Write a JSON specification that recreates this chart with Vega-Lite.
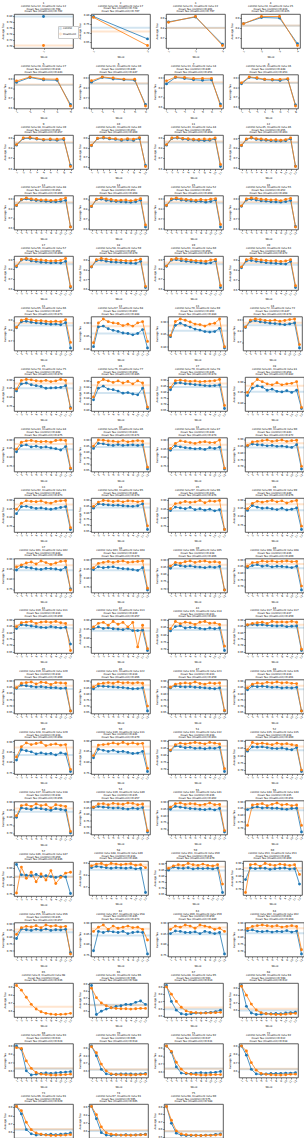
{
"$schema":"https://vega.github.io/schema/vega-lite/v6.json",
"padding":{"left":1,"top":1,"right":0,"bottom":0},
"datasets":{"titles":[
{"p":1,"ttl":"1|control runs:12, treatment runs:12|mean Tau (control)=0.798|mean Tau (treatment)=0.702"},
{"p":2,"ttl":"2|control runs:18, treatment runs:17|mean Tau (control)=0.728|mean Tau (treatment)=0.707"},
{"p":3,"ttl":"3|control runs:21, treatment runs:22|mean Tau (control)=0.801|mean Tau (treatment)=0.797"},
{"p":4,"ttl":"4|control runs:24, treatment runs:25|mean Tau (control)=0.824|mean Tau (treatment)=0.825"},
{"p":5,"ttl":"5|control runs:28, treatment runs:27|mean Tau (control)=0.834|mean Tau (treatment)=0.843"},
{"p":6,"ttl":"6|control runs:31, treatment runs:30|mean Tau (control)=0.840|mean Tau (treatment)=0.847"},
{"p":7,"ttl":"7|control runs:33, treatment runs:34|mean Tau (control)=0.840|mean Tau (treatment)=0.851"},
{"p":8,"ttl":"8|control runs:36, treatment runs:36|mean Tau (control)=0.848|mean Tau (treatment)=0.853"},
{"p":9,"ttl":"9|control runs:38, treatment runs:39|mean Tau (control)=0.852|mean Tau (treatment)=0.857"},
{"p":10,"ttl":"10|control runs:41, treatment runs:40|mean Tau (control)=0.853|mean Tau (treatment)=0.860"},
{"p":11,"ttl":"11|control runs:43, treatment runs:44|mean Tau (control)=0.855|mean Tau (treatment)=0.864"},
{"p":12,"ttl":"12|control runs:45, treatment runs:46|mean Tau (control)=0.855|mean Tau (treatment)=0.863"},
{"p":13,"ttl":"13|control runs:47, treatment runs:48|mean Tau (control)=0.854|mean Tau (treatment)=0.866"},
{"p":14,"ttl":"14|control runs:50, treatment runs:49|mean Tau (control)=0.853|mean Tau (treatment)=0.868"},
{"p":15,"ttl":"15|control runs:52, treatment runs:52|mean Tau (control)=0.852|mean Tau (treatment)=0.868"},
{"p":16,"ttl":"16|control runs:54, treatment runs:55|mean Tau (control)=0.852|mean Tau (treatment)=0.868"},
{"p":17,"ttl":"17|control runs:56, treatment runs:57|mean Tau (control)=0.850|mean Tau (treatment)=0.869"},
{"p":18,"ttl":"18|control runs:58, treatment runs:59|mean Tau (control)=0.850|mean Tau (treatment)=0.870"},
{"p":19,"ttl":"19|control runs:61, treatment runs:60|mean Tau (control)=0.850|mean Tau (treatment)=0.870"},
{"p":20,"ttl":"20|control runs:63, treatment runs:63|mean Tau (control)=0.848|mean Tau (treatment)=0.872"},
{"p":21,"ttl":"21|control runs:65, treatment runs:66|mean Tau (control)=0.847|mean Tau (treatment)=0.873"},
{"p":22,"ttl":"22|control runs:67, treatment runs:68|mean Tau (control)=0.862|mean Tau (treatment)=0.888"},
{"p":23,"ttl":"23|control runs:70, treatment runs:69|mean Tau (control)=0.862|mean Tau (treatment)=0.884"},
{"p":24,"ttl":"24|control runs:72, treatment runs:72|mean Tau (control)=0.847|mean Tau (treatment)=0.874"},
{"p":25,"ttl":"25|control runs:74, treatment runs:75|mean Tau (control)=0.851|mean Tau (treatment)=0.879"},
{"p":26,"ttl":"26|control runs:76, treatment runs:77|mean Tau (control)=0.858|mean Tau (treatment)=0.885"},
{"p":27,"ttl":"27|control runs:79, treatment runs:78|mean Tau (control)=0.845|mean Tau (treatment)=0.874"},
{"p":28,"ttl":"28|control runs:81, treatment runs:81|mean Tau (control)=0.854|mean Tau (treatment)=0.882"},
{"p":29,"ttl":"29|control runs:83, treatment runs:84|mean Tau (control)=0.848|mean Tau (treatment)=0.875"},
{"p":30,"ttl":"30|control runs:85, treatment runs:86|mean Tau (control)=0.843|mean Tau (treatment)=0.871"},
{"p":31,"ttl":"31|control runs:88, treatment runs:87|mean Tau (control)=0.844|mean Tau (treatment)=0.874"},
{"p":32,"ttl":"32|control runs:90, treatment runs:90|mean Tau (control)=0.843|mean Tau (treatment)=0.872"},
{"p":33,"ttl":"33|control runs:92, treatment runs:93|mean Tau (control)=0.842|mean Tau (treatment)=0.873"},
{"p":34,"ttl":"34|control runs:94, treatment runs:95|mean Tau (control)=0.846|mean Tau (treatment)=0.874"},
{"p":35,"ttl":"35|control runs:97, treatment runs:96|mean Tau (control)=0.843|mean Tau (treatment)=0.876"},
{"p":36,"ttl":"36|control runs:99, treatment runs:99|mean Tau (control)=0.840|mean Tau (treatment)=0.876"},
{"p":37,"ttl":"37|control runs:101, treatment runs:102|mean Tau (control)=0.844|mean Tau (treatment)=0.869"},
{"p":38,"ttl":"38|control runs:103, treatment runs:104|mean Tau (control)=0.842|mean Tau (treatment)=0.874"},
{"p":39,"ttl":"39|control runs:106, treatment runs:105|mean Tau (control)=0.838|mean Tau (treatment)=0.866"},
{"p":40,"ttl":"40|control runs:108, treatment runs:108|mean Tau (control)=0.836|mean Tau (treatment)=0.869"},
{"p":41,"ttl":"41|control runs:110, treatment runs:111|mean Tau (control)=0.834|mean Tau (treatment)=0.859"},
{"p":42,"ttl":"42|control runs:112, treatment runs:113|mean Tau (control)=0.839|mean Tau (treatment)=0.857"},
{"p":43,"ttl":"43|control runs:115, treatment runs:114|mean Tau (control)=0.833|mean Tau (treatment)=0.862"},
{"p":44,"ttl":"44|control runs:117, treatment runs:117|mean Tau (control)=0.837|mean Tau (treatment)=0.859"},
{"p":45,"ttl":"45|control runs:119, treatment runs:120|mean Tau (control)=0.834|mean Tau (treatment)=0.860"},
{"p":46,"ttl":"46|control runs:121, treatment runs:122|mean Tau (control)=0.834|mean Tau (treatment)=0.866"},
{"p":47,"ttl":"47|control runs:124, treatment runs:123|mean Tau (control)=0.833|mean Tau (treatment)=0.859"},
{"p":48,"ttl":"48|control runs:126, treatment runs:126|mean Tau (control)=0.834|mean Tau (treatment)=0.861"},
{"p":49,"ttl":"49|control runs:128, treatment runs:129|mean Tau (control)=0.838|mean Tau (treatment)=0.868"},
{"p":50,"ttl":"50|control runs:130, treatment runs:131|mean Tau (control)=0.841|mean Tau (treatment)=0.870"},
{"p":51,"ttl":"51|control runs:133, treatment runs:132|mean Tau (control)=0.838|mean Tau (treatment)=0.863"},
{"p":52,"ttl":"52|control runs:135, treatment runs:135|mean Tau (control)=0.838|mean Tau (treatment)=0.860"},
{"p":53,"ttl":"53|control runs:137, treatment runs:138|mean Tau (control)=0.838|mean Tau (treatment)=0.856"},
{"p":54,"ttl":"54|control runs:139, treatment runs:140|mean Tau (control)=0.835|mean Tau (treatment)=0.857"},
{"p":55,"ttl":"55|control runs:142, treatment runs:141|mean Tau (control)=0.836|mean Tau (treatment)=0.862"},
{"p":56,"ttl":"56|control runs:144, treatment runs:144|mean Tau (control)=0.835|mean Tau (treatment)=0.851"},
{"p":57,"ttl":"57|control runs:146, treatment runs:147|mean Tau (control)=0.850|mean Tau (treatment)=0.846"},
{"p":58,"ttl":"58|control runs:148, treatment runs:149|mean Tau (control)=0.838|mean Tau (treatment)=0.886"},
{"p":59,"ttl":"59|control runs:151, treatment runs:150|mean Tau (control)=0.841|mean Tau (treatment)=0.879"},
{"p":60,"ttl":"60|control runs:153, treatment runs:153|mean Tau (control)=0.839|mean Tau (treatment)=0.860"},
{"p":61,"ttl":"61|control runs:155, treatment runs:156|mean Tau (control)=0.835|mean Tau (treatment)=0.857"},
{"p":62,"ttl":"62|control runs:157, treatment runs:158|mean Tau (control)=0.845|mean Tau (treatment)=0.874"},
{"p":63,"ttl":"63|control runs:160, treatment runs:159|mean Tau (control)=0.850|mean Tau (treatment)=0.880"},
{"p":64,"ttl":"64|control runs:162, treatment runs:162|mean Tau (control)=0.828|mean Tau (treatment)=0.864"},
{"p":65,"ttl":"65|control runs:0, treatment runs:98|mean Tau (control)=nan|mean Tau (treatment)=0.636"},
{"p":66,"ttl":"66|control runs:41, treatment runs:96|mean Tau (control)=0.596|mean Tau (treatment)=0.588"},
{"p":67,"ttl":"67|control runs:88, treatment runs:95|mean Tau (control)=0.593|mean Tau (treatment)=0.614"},
{"p":68,"ttl":"68|control runs:90, treatment runs:94|mean Tau (control)=0.598|mean Tau (treatment)=0.612"},
{"p":69,"ttl":"69|control runs:92, treatment runs:93|mean Tau (control)=0.633|mean Tau (treatment)=0.624"},
{"p":70,"ttl":"70|control runs:93, treatment runs:93|mean Tau (control)=0.606|mean Tau (treatment)=0.614"},
{"p":71,"ttl":"71|control runs:94, treatment runs:92|mean Tau (control)=0.637|mean Tau (treatment)=0.631"},
{"p":72,"ttl":"72|control runs:95, treatment runs:92|mean Tau (control)=0.612|mean Tau (treatment)=0.618"},
{"p":73,"ttl":"73|control runs:96, treatment runs:91|mean Tau (control)=0.624|mean Tau (treatment)=0.629"},
{"p":74,"ttl":"74|control runs:97, treatment runs:91|mean Tau (control)=0.595|mean Tau (treatment)=0.605"},
{"p":75,"ttl":"75|control runs:98, treatment runs:90|mean Tau (control)=0.575|mean Tau (treatment)=0.588"}
]},
"data":{"values":[
{"p":1,"w":1,"control":0.798,"treatment":0.702},
{"p":2,"w":1,"control":0.79,"treatment":0.785},{"p":2,"w":2,"control":0.665,"treatment":0.628},
{"p":3,"w":1,"control":0.858,"treatment":0.853},{"p":3,"w":2,"control":0.905,"treatment":0.91},{"p":3,"w":3,"control":0.64,"treatment":0.628},
{"p":4,"w":1,"control":0.845,"treatment":0.843},{"p":4,"w":2,"control":0.905,"treatment":0.915},{"p":4,"w":3,"control":0.9,"treatment":0.915},{"p":4,"w":4,"control":0.645,"treatment":0.627},
{"p":5,"w":1,"control":0.86,"treatment":0.875},{"p":5,"w":2,"control":0.91,"treatment":0.915},{"p":5,"w":3,"control":0.885,"treatment":0.895},{"p":5,"w":4,"control":0.882,"treatment":0.893},{"p":5,"w":5,"control":0.635,"treatment":0.62},
{"p":6,"w":1,"control":0.857,"treatment":0.872},{"p":6,"w":2,"control":0.905,"treatment":0.91},{"p":6,"w":3,"control":0.89,"treatment":0.9},{"p":6,"w":4,"control":0.882,"treatment":0.888},{"p":6,"w":5,"control":0.877,"treatment":0.887},{"p":6,"w":6,"control":0.63,"treatment":0.615},
{"p":7,"w":1,"control":0.835,"treatment":0.866},{"p":7,"w":2,"control":0.9,"treatment":0.905},{"p":7,"w":3,"control":0.89,"treatment":0.9},{"p":7,"w":4,"control":0.877,"treatment":0.89},{"p":7,"w":5,"control":0.872,"treatment":0.891},{"p":7,"w":6,"control":0.876,"treatment":0.892},{"p":7,"w":7,"control":0.632,"treatment":0.613},
{"p":8,"w":1,"control":0.84,"treatment":0.85},{"p":8,"w":2,"control":0.905,"treatment":0.91},{"p":8,"w":3,"control":0.895,"treatment":0.902},{"p":8,"w":4,"control":0.882,"treatment":0.887},{"p":8,"w":5,"control":0.878,"treatment":0.885},{"p":8,"w":6,"control":0.874,"treatment":0.886},{"p":8,"w":7,"control":0.886,"treatment":0.893},{"p":8,"w":8,"control":0.622,"treatment":0.61},
{"p":9,"w":1,"control":0.83,"treatment":0.835},{"p":9,"w":2,"control":0.895,"treatment":0.9},{"p":9,"w":3,"control":0.897,"treatment":0.905},{"p":9,"w":4,"control":0.89,"treatment":0.895},{"p":9,"w":5,"control":0.88,"treatment":0.887},{"p":9,"w":6,"control":0.882,"treatment":0.89},{"p":9,"w":7,"control":0.877,"treatment":0.888},{"p":9,"w":8,"control":0.885,"treatment":0.895},{"p":9,"w":9,"control":0.63,"treatment":0.62},
{"p":10,"w":1,"control":0.82,"treatment":0.825},{"p":10,"w":2,"control":0.893,"treatment":0.897},{"p":10,"w":3,"control":0.9,"treatment":0.905},{"p":10,"w":4,"control":0.89,"treatment":0.898},{"p":10,"w":5,"control":0.885,"treatment":0.893},{"p":10,"w":6,"control":0.875,"treatment":0.885},{"p":10,"w":7,"control":0.882,"treatment":0.893},{"p":10,"w":8,"control":0.875,"treatment":0.888},{"p":10,"w":9,"control":0.895,"treatment":0.903},{"p":10,"w":10,"control":0.615,"treatment":0.605},
{"p":11,"w":1,"control":0.83,"treatment":0.835},{"p":11,"w":2,"control":0.895,"treatment":0.9},{"p":11,"w":3,"control":0.9,"treatment":0.905},{"p":11,"w":4,"control":0.89,"treatment":0.897},{"p":11,"w":5,"control":0.885,"treatment":0.893},{"p":11,"w":6,"control":0.88,"treatment":0.888},{"p":11,"w":7,"control":0.877,"treatment":0.887},{"p":11,"w":8,"control":0.875,"treatment":0.89},{"p":11,"w":9,"control":0.878,"treatment":0.888},{"p":11,"w":10,"control":0.89,"treatment":0.9},{"p":11,"w":11,"control":0.62,"treatment":0.64},
{"p":12,"w":1,"control":0.825,"treatment":0.83},{"p":12,"w":2,"control":0.89,"treatment":0.895},{"p":12,"w":3,"control":0.905,"treatment":0.91},{"p":12,"w":4,"control":0.89,"treatment":0.898},{"p":12,"w":5,"control":0.884,"treatment":0.895},{"p":12,"w":6,"control":0.882,"treatment":0.89},{"p":12,"w":7,"control":0.876,"treatment":0.885},{"p":12,"w":8,"control":0.874,"treatment":0.887},{"p":12,"w":9,"control":0.873,"treatment":0.882},{"p":12,"w":10,"control":0.877,"treatment":0.888},{"p":12,"w":11,"control":0.895,"treatment":0.905},{"p":12,"w":12,"control":0.615,"treatment":0.612},
{"p":13,"w":1,"control":0.83,"treatment":0.835},{"p":13,"w":2,"control":0.89,"treatment":0.895},{"p":13,"w":3,"control":0.9,"treatment":0.91},{"p":13,"w":4,"control":0.89,"treatment":0.9},{"p":13,"w":5,"control":0.884,"treatment":0.895},{"p":13,"w":6,"control":0.88,"treatment":0.89},{"p":13,"w":7,"control":0.875,"treatment":0.89},{"p":13,"w":8,"control":0.872,"treatment":0.885},{"p":13,"w":9,"control":0.87,"treatment":0.887},{"p":13,"w":10,"control":0.875,"treatment":0.895},{"p":13,"w":11,"control":0.885,"treatment":0.91},{"p":13,"w":12,"control":0.61,"treatment":0.608},
{"p":14,"w":1,"control":0.825,"treatment":0.83},{"p":14,"w":2,"control":0.895,"treatment":0.9},{"p":14,"w":3,"control":0.9,"treatment":0.912},{"p":14,"w":4,"control":0.888,"treatment":0.902},{"p":14,"w":5,"control":0.882,"treatment":0.897},{"p":14,"w":6,"control":0.876,"treatment":0.888},{"p":14,"w":7,"control":0.873,"treatment":0.89},{"p":14,"w":8,"control":0.872,"treatment":0.892},{"p":14,"w":9,"control":0.868,"treatment":0.884},{"p":14,"w":10,"control":0.874,"treatment":0.893},{"p":14,"w":11,"control":0.89,"treatment":0.905},{"p":14,"w":12,"control":0.62,"treatment":0.64},
{"p":15,"w":1,"control":0.83,"treatment":0.835},{"p":15,"w":2,"control":0.89,"treatment":0.9},{"p":15,"w":3,"control":0.898,"treatment":0.908},{"p":15,"w":4,"control":0.887,"treatment":0.9},{"p":15,"w":5,"control":0.883,"treatment":0.894},{"p":15,"w":6,"control":0.877,"treatment":0.892},{"p":15,"w":7,"control":0.872,"treatment":0.885},{"p":15,"w":8,"control":0.875,"treatment":0.893},{"p":15,"w":9,"control":0.866,"treatment":0.887},{"p":15,"w":10,"control":0.873,"treatment":0.896},{"p":15,"w":11,"control":0.887,"treatment":0.902},{"p":15,"w":12,"control":0.615,"treatment":0.64},
{"p":16,"w":1,"control":0.825,"treatment":0.83},{"p":16,"w":2,"control":0.89,"treatment":0.9},{"p":16,"w":3,"control":0.897,"treatment":0.91},{"p":16,"w":4,"control":0.89,"treatment":0.905},{"p":16,"w":5,"control":0.88,"treatment":0.897},{"p":16,"w":6,"control":0.878,"treatment":0.895},{"p":16,"w":7,"control":0.872,"treatment":0.89},{"p":16,"w":8,"control":0.87,"treatment":0.893},{"p":16,"w":9,"control":0.868,"treatment":0.882},{"p":16,"w":10,"control":0.873,"treatment":0.896},{"p":16,"w":11,"control":0.885,"treatment":0.905},{"p":16,"w":12,"control":0.62,"treatment":0.615},
{"p":17,"w":1,"control":0.825,"treatment":0.835},{"p":17,"w":2,"control":0.895,"treatment":0.9},{"p":17,"w":3,"control":0.9,"treatment":0.91},{"p":17,"w":4,"control":0.885,"treatment":0.902},{"p":17,"w":5,"control":0.88,"treatment":0.897},{"p":17,"w":6,"control":0.872,"treatment":0.895},{"p":17,"w":7,"control":0.87,"treatment":0.89},{"p":17,"w":8,"control":0.865,"treatment":0.885},{"p":17,"w":9,"control":0.868,"treatment":0.887},{"p":17,"w":10,"control":0.863,"treatment":0.89},{"p":17,"w":11,"control":0.88,"treatment":0.91},{"p":17,"w":12,"control":0.615,"treatment":0.625},
{"p":18,"w":1,"control":0.825,"treatment":0.83},{"p":18,"w":2,"control":0.89,"treatment":0.9},{"p":18,"w":3,"control":0.895,"treatment":0.912},{"p":18,"w":4,"control":0.885,"treatment":0.905},{"p":18,"w":5,"control":0.877,"treatment":0.9},{"p":18,"w":6,"control":0.875,"treatment":0.898},{"p":18,"w":7,"control":0.872,"treatment":0.893},{"p":18,"w":8,"control":0.868,"treatment":0.89},{"p":18,"w":9,"control":0.865,"treatment":0.888},{"p":18,"w":10,"control":0.862,"treatment":0.895},{"p":18,"w":11,"control":0.883,"treatment":0.905},{"p":18,"w":12,"control":0.618,"treatment":0.63},
{"p":19,"w":1,"control":0.83,"treatment":0.835},{"p":19,"w":2,"control":0.893,"treatment":0.9},{"p":19,"w":3,"control":0.898,"treatment":0.91},{"p":19,"w":4,"control":0.888,"treatment":0.905},{"p":19,"w":5,"control":0.882,"treatment":0.9},{"p":19,"w":6,"control":0.876,"treatment":0.893},{"p":19,"w":7,"control":0.872,"treatment":0.888},{"p":19,"w":8,"control":0.865,"treatment":0.886},{"p":19,"w":9,"control":0.86,"treatment":0.882},{"p":19,"w":10,"control":0.866,"treatment":0.895},{"p":19,"w":11,"control":0.885,"treatment":0.9},{"p":19,"w":12,"control":0.615,"treatment":0.635},
{"p":20,"w":1,"control":0.82,"treatment":0.83},{"p":20,"w":2,"control":0.89,"treatment":0.902},{"p":20,"w":3,"control":0.895,"treatment":0.915},{"p":20,"w":4,"control":0.886,"treatment":0.905},{"p":20,"w":5,"control":0.88,"treatment":0.9},{"p":20,"w":6,"control":0.873,"treatment":0.895},{"p":20,"w":7,"control":0.868,"treatment":0.89},{"p":20,"w":8,"control":0.865,"treatment":0.892},{"p":20,"w":9,"control":0.862,"treatment":0.885},{"p":20,"w":10,"control":0.858,"treatment":0.89},{"p":20,"w":11,"control":0.885,"treatment":0.903},{"p":20,"w":12,"control":0.62,"treatment":0.638},
{"p":21,"w":1,"control":0.825,"treatment":0.83},{"p":21,"w":2,"control":0.885,"treatment":0.9},{"p":21,"w":3,"control":0.89,"treatment":0.912},{"p":21,"w":4,"control":0.88,"treatment":0.902},{"p":21,"w":5,"control":0.873,"treatment":0.895},{"p":21,"w":6,"control":0.87,"treatment":0.895},{"p":21,"w":7,"control":0.865,"treatment":0.89},{"p":21,"w":8,"control":0.86,"treatment":0.885},{"p":21,"w":9,"control":0.862,"treatment":0.89},{"p":21,"w":10,"control":0.855,"treatment":0.885},{"p":21,"w":11,"control":0.875,"treatment":0.905},{"p":21,"w":12,"control":0.625,"treatment":0.68},
{"p":22,"w":1,"control":0.81,"treatment":0.825},{"p":22,"w":2,"control":0.885,"treatment":0.9},{"p":22,"w":3,"control":0.888,"treatment":0.915},{"p":22,"w":4,"control":0.878,"treatment":0.905},{"p":22,"w":5,"control":0.872,"treatment":0.9},{"p":22,"w":6,"control":0.868,"treatment":0.898},{"p":22,"w":7,"control":0.862,"treatment":0.89},{"p":22,"w":8,"control":0.86,"treatment":0.895},{"p":22,"w":9,"control":0.855,"treatment":0.888},{"p":22,"w":10,"control":0.86,"treatment":0.9},{"p":22,"w":11,"control":0.875,"treatment":0.905},{"p":22,"w":12,"control":0.805,"treatment":0.83},
{"p":23,"w":1,"control":0.84,"treatment":0.845},{"p":23,"w":2,"control":0.885,"treatment":0.9},{"p":23,"w":3,"control":0.893,"treatment":0.91},{"p":23,"w":4,"control":0.885,"treatment":0.905},{"p":23,"w":5,"control":0.878,"treatment":0.898},{"p":23,"w":6,"control":0.87,"treatment":0.89},{"p":23,"w":7,"control":0.866,"treatment":0.888},{"p":23,"w":8,"control":0.86,"treatment":0.882},{"p":23,"w":9,"control":0.858,"treatment":0.89},{"p":23,"w":10,"control":0.86,"treatment":0.893},{"p":23,"w":11,"control":0.873,"treatment":0.91},{"p":23,"w":12,"control":0.795,"treatment":0.8},
{"p":24,"w":1,"control":0.83,"treatment":0.835},{"p":24,"w":2,"control":0.885,"treatment":0.895},{"p":24,"w":3,"control":0.89,"treatment":0.905},{"p":24,"w":4,"control":0.88,"treatment":0.9},{"p":24,"w":5,"control":0.875,"treatment":0.893},{"p":24,"w":6,"control":0.868,"treatment":0.89},{"p":24,"w":7,"control":0.865,"treatment":0.895},{"p":24,"w":8,"control":0.86,"treatment":0.885},{"p":24,"w":9,"control":0.855,"treatment":0.892},{"p":24,"w":10,"control":0.862,"treatment":0.9},{"p":24,"w":11,"control":0.87,"treatment":0.905},{"p":24,"w":12,"control":0.65,"treatment":0.68},
{"p":25,"w":1,"control":0.835,"treatment":0.845},{"p":25,"w":2,"control":0.875,"treatment":0.895},{"p":25,"w":3,"control":0.88,"treatment":0.9},{"p":25,"w":4,"control":0.87,"treatment":0.898},{"p":25,"w":5,"control":0.865,"treatment":0.893},{"p":25,"w":6,"control":0.86,"treatment":0.89},{"p":25,"w":7,"control":0.85,"treatment":0.895},{"p":25,"w":8,"control":0.852,"treatment":0.888},{"p":25,"w":9,"control":0.853,"treatment":0.892},{"p":25,"w":10,"control":0.855,"treatment":0.9},{"p":25,"w":11,"control":0.865,"treatment":0.895},{"p":25,"w":12,"control":0.74,"treatment":0.735},
{"p":26,"w":1,"control":0.835,"treatment":0.845},{"p":26,"w":2,"control":0.875,"treatment":0.895},{"p":26,"w":3,"control":0.882,"treatment":0.905},{"p":26,"w":4,"control":0.872,"treatment":0.9},{"p":26,"w":5,"control":0.87,"treatment":0.895},{"p":26,"w":6,"control":0.865,"treatment":0.9},{"p":26,"w":7,"control":0.858,"treatment":0.893},{"p":26,"w":8,"control":0.86,"treatment":0.898},{"p":26,"w":9,"control":0.855,"treatment":0.89},{"p":26,"w":10,"control":0.852,"treatment":0.9},{"p":26,"w":11,"control":0.875,"treatment":0.893},{"p":26,"w":12,"control":0.805,"treatment":0.81},
{"p":27,"w":1,"control":0.82,"treatment":0.84},{"p":27,"w":2,"control":0.875,"treatment":0.895},{"p":27,"w":3,"control":0.878,"treatment":0.9},{"p":27,"w":4,"control":0.87,"treatment":0.895},{"p":27,"w":5,"control":0.868,"treatment":0.89},{"p":27,"w":6,"control":0.862,"treatment":0.893},{"p":27,"w":7,"control":0.86,"treatment":0.887},{"p":27,"w":8,"control":0.855,"treatment":0.89},{"p":27,"w":9,"control":0.852,"treatment":0.892},{"p":27,"w":10,"control":0.855,"treatment":0.895},{"p":27,"w":11,"control":0.86,"treatment":0.905},{"p":27,"w":12,"control":0.665,"treatment":0.69},
{"p":28,"w":1,"control":0.835,"treatment":0.85},{"p":28,"w":2,"control":0.87,"treatment":0.89},{"p":28,"w":3,"control":0.88,"treatment":0.91},{"p":28,"w":4,"control":0.875,"treatment":0.9},{"p":28,"w":5,"control":0.86,"treatment":0.89},{"p":28,"w":6,"control":0.865,"treatment":0.885},{"p":28,"w":7,"control":0.855,"treatment":0.895},{"p":28,"w":8,"control":0.852,"treatment":0.885},{"p":28,"w":9,"control":0.858,"treatment":0.89},{"p":28,"w":10,"control":0.85,"treatment":0.892},{"p":28,"w":11,"control":0.86,"treatment":0.9},{"p":28,"w":12,"control":0.775,"treatment":0.78},
{"p":29,"w":1,"control":0.83,"treatment":0.845},{"p":29,"w":2,"control":0.865,"treatment":0.885},{"p":29,"w":3,"control":0.87,"treatment":0.893},{"p":29,"w":4,"control":0.858,"treatment":0.895},{"p":29,"w":5,"control":0.862,"treatment":0.89},{"p":29,"w":6,"control":0.855,"treatment":0.888},{"p":29,"w":7,"control":0.858,"treatment":0.89},{"p":29,"w":8,"control":0.852,"treatment":0.885},{"p":29,"w":9,"control":0.848,"treatment":0.895},{"p":29,"w":10,"control":0.84,"treatment":0.898},{"p":29,"w":11,"control":0.86,"treatment":0.895},{"p":29,"w":12,"control":0.73,"treatment":0.735},
{"p":30,"w":1,"control":0.83,"treatment":0.85},{"p":30,"w":2,"control":0.872,"treatment":0.9},{"p":30,"w":3,"control":0.868,"treatment":0.898},{"p":30,"w":4,"control":0.86,"treatment":0.892},{"p":30,"w":5,"control":0.855,"treatment":0.89},{"p":30,"w":6,"control":0.862,"treatment":0.885},{"p":30,"w":7,"control":0.855,"treatment":0.895},{"p":30,"w":8,"control":0.858,"treatment":0.885},{"p":30,"w":9,"control":0.86,"treatment":0.89},{"p":30,"w":10,"control":0.855,"treatment":0.895},{"p":30,"w":11,"control":0.86,"treatment":0.89},{"p":30,"w":12,"control":0.66,"treatment":0.675},
{"p":31,"w":1,"control":0.84,"treatment":0.85},{"p":31,"w":2,"control":0.865,"treatment":0.88},{"p":31,"w":3,"control":0.86,"treatment":0.895},{"p":31,"w":4,"control":0.855,"treatment":0.89},{"p":31,"w":5,"control":0.852,"treatment":0.885},{"p":31,"w":6,"control":0.848,"treatment":0.88},{"p":31,"w":7,"control":0.85,"treatment":0.887},{"p":31,"w":8,"control":0.845,"treatment":0.89},{"p":31,"w":9,"control":0.855,"treatment":0.885},{"p":31,"w":10,"control":0.85,"treatment":0.885},{"p":31,"w":11,"control":0.858,"treatment":0.9},{"p":31,"w":12,"control":0.73,"treatment":0.735},
{"p":32,"w":1,"control":0.85,"treatment":0.855},{"p":32,"w":2,"control":0.865,"treatment":0.88},{"p":32,"w":3,"control":0.86,"treatment":0.885},{"p":32,"w":4,"control":0.858,"treatment":0.89},{"p":32,"w":5,"control":0.852,"treatment":0.895},{"p":32,"w":6,"control":0.855,"treatment":0.885},{"p":32,"w":7,"control":0.848,"treatment":0.89},{"p":32,"w":8,"control":0.85,"treatment":0.895},{"p":32,"w":9,"control":0.845,"treatment":0.885},{"p":32,"w":10,"control":0.84,"treatment":0.89},{"p":32,"w":11,"control":0.86,"treatment":0.893},{"p":32,"w":12,"control":0.68,"treatment":0.7},
{"p":33,"w":1,"control":0.82,"treatment":0.845},{"p":33,"w":2,"control":0.86,"treatment":0.88},{"p":33,"w":3,"control":0.862,"treatment":0.893},{"p":33,"w":4,"control":0.855,"treatment":0.89},{"p":33,"w":5,"control":0.85,"treatment":0.888},{"p":33,"w":6,"control":0.853,"treatment":0.892},{"p":33,"w":7,"control":0.848,"treatment":0.883},{"p":33,"w":8,"control":0.845,"treatment":0.88},{"p":33,"w":9,"control":0.85,"treatment":0.89},{"p":33,"w":10,"control":0.855,"treatment":0.893},{"p":33,"w":11,"control":0.86,"treatment":0.895},{"p":33,"w":12,"control":0.73,"treatment":0.74},
{"p":34,"w":1,"control":0.835,"treatment":0.85},{"p":34,"w":2,"control":0.87,"treatment":0.885},{"p":34,"w":3,"control":0.865,"treatment":0.898},{"p":34,"w":4,"control":0.862,"treatment":0.895},{"p":34,"w":5,"control":0.858,"treatment":0.89},{"p":34,"w":6,"control":0.86,"treatment":0.895},{"p":34,"w":7,"control":0.855,"treatment":0.887},{"p":34,"w":8,"control":0.852,"treatment":0.895},{"p":34,"w":9,"control":0.85,"treatment":0.893},{"p":34,"w":10,"control":0.855,"treatment":0.887},{"p":34,"w":11,"control":0.87,"treatment":0.893},{"p":34,"w":12,"control":0.66,"treatment":0.69},
{"p":35,"w":1,"control":0.84,"treatment":0.85},{"p":35,"w":2,"control":0.86,"treatment":0.88},{"p":35,"w":3,"control":0.855,"treatment":0.885},{"p":35,"w":4,"control":0.85,"treatment":0.892},{"p":35,"w":5,"control":0.858,"treatment":0.887},{"p":35,"w":6,"control":0.845,"treatment":0.89},{"p":35,"w":7,"control":0.85,"treatment":0.898},{"p":35,"w":8,"control":0.842,"treatment":0.885},{"p":35,"w":9,"control":0.848,"treatment":0.895},{"p":35,"w":10,"control":0.838,"treatment":0.893},{"p":35,"w":11,"control":0.845,"treatment":0.898},{"p":35,"w":12,"control":0.73,"treatment":0.73},
{"p":36,"w":1,"control":0.835,"treatment":0.845},{"p":36,"w":2,"control":0.865,"treatment":0.878},{"p":36,"w":3,"control":0.855,"treatment":0.89},{"p":36,"w":4,"control":0.848,"treatment":0.885},{"p":36,"w":5,"control":0.85,"treatment":0.89},{"p":36,"w":6,"control":0.845,"treatment":0.895},{"p":36,"w":7,"control":0.84,"treatment":0.887},{"p":36,"w":8,"control":0.848,"treatment":0.893},{"p":36,"w":9,"control":0.838,"treatment":0.88},{"p":36,"w":10,"control":0.842,"treatment":0.89},{"p":36,"w":11,"control":0.85,"treatment":0.895},{"p":36,"w":12,"control":0.72,"treatment":0.74},
{"p":37,"w":1,"control":0.845,"treatment":0.86},{"p":37,"w":2,"control":0.862,"treatment":0.87},{"p":37,"w":3,"control":0.858,"treatment":0.88},{"p":37,"w":4,"control":0.855,"treatment":0.885},{"p":37,"w":5,"control":0.85,"treatment":0.875},{"p":37,"w":6,"control":0.848,"treatment":0.89},{"p":37,"w":7,"control":0.853,"treatment":0.882},{"p":37,"w":8,"control":0.852,"treatment":0.873},{"p":37,"w":9,"control":0.85,"treatment":0.88},{"p":37,"w":10,"control":0.845,"treatment":0.888},{"p":37,"w":11,"control":0.858,"treatment":0.89},{"p":37,"w":12,"control":0.75,"treatment":0.745},
{"p":38,"w":1,"control":0.845,"treatment":0.855},{"p":38,"w":2,"control":0.86,"treatment":0.88},{"p":38,"w":3,"control":0.855,"treatment":0.885},{"p":38,"w":4,"control":0.858,"treatment":0.89},{"p":38,"w":5,"control":0.86,"treatment":0.885},{"p":38,"w":6,"control":0.853,"treatment":0.89},{"p":38,"w":7,"control":0.85,"treatment":0.893},{"p":38,"w":8,"control":0.848,"treatment":0.885},{"p":38,"w":9,"control":0.845,"treatment":0.888},{"p":38,"w":10,"control":0.84,"treatment":0.89},{"p":38,"w":11,"control":0.855,"treatment":0.893},{"p":38,"w":12,"control":0.73,"treatment":0.74},
{"p":39,"w":1,"control":0.84,"treatment":0.855},{"p":39,"w":2,"control":0.865,"treatment":0.88},{"p":39,"w":3,"control":0.858,"treatment":0.875},{"p":39,"w":4,"control":0.852,"treatment":0.885},{"p":39,"w":5,"control":0.856,"treatment":0.89},{"p":39,"w":6,"control":0.85,"treatment":0.88},{"p":39,"w":7,"control":0.848,"treatment":0.887},{"p":39,"w":8,"control":0.844,"treatment":0.89},{"p":39,"w":9,"control":0.85,"treatment":0.882},{"p":39,"w":10,"control":0.846,"treatment":0.885},{"p":39,"w":11,"control":0.852,"treatment":0.88},{"p":39,"w":12,"control":0.69,"treatment":0.69},
{"p":40,"w":1,"control":0.84,"treatment":0.85},{"p":40,"w":2,"control":0.855,"treatment":0.878},{"p":40,"w":3,"control":0.862,"treatment":0.88},{"p":40,"w":4,"control":0.85,"treatment":0.89},{"p":40,"w":5,"control":0.855,"treatment":0.885},{"p":40,"w":6,"control":0.845,"treatment":0.89},{"p":40,"w":7,"control":0.85,"treatment":0.884},{"p":40,"w":8,"control":0.848,"treatment":0.887},{"p":40,"w":9,"control":0.845,"treatment":0.89},{"p":40,"w":10,"control":0.84,"treatment":0.885},{"p":40,"w":11,"control":0.85,"treatment":0.887},{"p":40,"w":12,"control":0.67,"treatment":0.7},
{"p":41,"w":1,"control":0.83,"treatment":0.845},{"p":41,"w":2,"control":0.86,"treatment":0.875},{"p":41,"w":3,"control":0.855,"treatment":0.88},{"p":41,"w":4,"control":0.85,"treatment":0.885},{"p":41,"w":5,"control":0.845,"treatment":0.87},{"p":41,"w":6,"control":0.84,"treatment":0.88},{"p":41,"w":7,"control":0.838,"treatment":0.883},{"p":41,"w":8,"control":0.845,"treatment":0.878},{"p":41,"w":9,"control":0.84,"treatment":0.885},{"p":41,"w":10,"control":0.835,"treatment":0.875},{"p":41,"w":11,"control":0.84,"treatment":0.87},{"p":41,"w":12,"control":0.71,"treatment":0.66},
{"p":42,"w":1,"control":0.85,"treatment":0.86},{"p":42,"w":2,"control":0.86,"treatment":0.88},{"p":42,"w":3,"control":0.852,"treatment":0.885},{"p":42,"w":4,"control":0.855,"treatment":0.87},{"p":42,"w":5,"control":0.85,"treatment":0.89},{"p":42,"w":6,"control":0.848,"treatment":0.875},{"p":42,"w":7,"control":0.845,"treatment":0.885},{"p":42,"w":8,"control":0.852,"treatment":0.86},{"p":42,"w":9,"control":0.84,"treatment":0.885},{"p":42,"w":10,"control":0.84,"treatment":0.75},{"p":42,"w":11,"control":0.842,"treatment":0.87},{"p":42,"w":12,"control":0.73,"treatment":0.74},
{"p":43,"w":1,"control":0.825,"treatment":0.84},{"p":43,"w":2,"control":0.855,"treatment":0.89},{"p":43,"w":3,"control":0.86,"treatment":0.875},{"p":43,"w":4,"control":0.845,"treatment":0.885},{"p":43,"w":5,"control":0.85,"treatment":0.88},{"p":43,"w":6,"control":0.848,"treatment":0.87},{"p":43,"w":7,"control":0.842,"treatment":0.885},{"p":43,"w":8,"control":0.838,"treatment":0.89},{"p":43,"w":9,"control":0.845,"treatment":0.878},{"p":43,"w":10,"control":0.84,"treatment":0.88},{"p":43,"w":11,"control":0.845,"treatment":0.87},{"p":43,"w":12,"control":0.69,"treatment":0.72},
{"p":44,"w":1,"control":0.855,"treatment":0.86},{"p":44,"w":2,"control":0.862,"treatment":0.87},{"p":44,"w":3,"control":0.858,"treatment":0.875},{"p":44,"w":4,"control":0.86,"treatment":0.88},{"p":44,"w":5,"control":0.855,"treatment":0.87},{"p":44,"w":6,"control":0.852,"treatment":0.885},{"p":44,"w":7,"control":0.85,"treatment":0.88},{"p":44,"w":8,"control":0.853,"treatment":0.882},{"p":44,"w":9,"control":0.845,"treatment":0.88},{"p":44,"w":10,"control":0.848,"treatment":0.885},{"p":44,"w":11,"control":0.85,"treatment":0.88},{"p":44,"w":12,"control":0.66,"treatment":0.67},
{"p":45,"w":1,"control":0.84,"treatment":0.845},{"p":45,"w":2,"control":0.865,"treatment":0.88},{"p":45,"w":3,"control":0.86,"treatment":0.885},{"p":45,"w":4,"control":0.855,"treatment":0.89},{"p":45,"w":5,"control":0.85,"treatment":0.875},{"p":45,"w":6,"control":0.853,"treatment":0.888},{"p":45,"w":7,"control":0.848,"treatment":0.885},{"p":45,"w":8,"control":0.845,"treatment":0.87},{"p":45,"w":9,"control":0.845,"treatment":0.885},{"p":45,"w":10,"control":0.84,"treatment":0.882},{"p":45,"w":11,"control":0.842,"treatment":0.88},{"p":45,"w":12,"control":0.66,"treatment":0.66},
{"p":46,"w":1,"control":0.84,"treatment":0.855},{"p":46,"w":2,"control":0.862,"treatment":0.88},{"p":46,"w":3,"control":0.86,"treatment":0.885},{"p":46,"w":4,"control":0.858,"treatment":0.89},{"p":46,"w":5,"control":0.855,"treatment":0.885},{"p":46,"w":6,"control":0.852,"treatment":0.895},{"p":46,"w":7,"control":0.85,"treatment":0.887},{"p":46,"w":8,"control":0.845,"treatment":0.89},{"p":46,"w":9,"control":0.84,"treatment":0.885},{"p":46,"w":10,"control":0.842,"treatment":0.89},{"p":46,"w":11,"control":0.848,"treatment":0.885},{"p":46,"w":12,"control":0.66,"treatment":0.7},
{"p":47,"w":1,"control":0.845,"treatment":0.85},{"p":47,"w":2,"control":0.86,"treatment":0.875},{"p":47,"w":3,"control":0.855,"treatment":0.88},{"p":47,"w":4,"control":0.852,"treatment":0.885},{"p":47,"w":5,"control":0.855,"treatment":0.88},{"p":47,"w":6,"control":0.85,"treatment":0.892},{"p":47,"w":7,"control":0.848,"treatment":0.88},{"p":47,"w":8,"control":0.845,"treatment":0.875},{"p":47,"w":9,"control":0.842,"treatment":0.885},{"p":47,"w":10,"control":0.838,"treatment":0.88},{"p":47,"w":11,"control":0.845,"treatment":0.885},{"p":47,"w":12,"control":0.66,"treatment":0.665},
{"p":48,"w":1,"control":0.83,"treatment":0.845},{"p":48,"w":2,"control":0.86,"treatment":0.875},{"p":48,"w":3,"control":0.855,"treatment":0.885},{"p":48,"w":4,"control":0.858,"treatment":0.88},{"p":48,"w":5,"control":0.855,"treatment":0.89},{"p":48,"w":6,"control":0.85,"treatment":0.885},{"p":48,"w":7,"control":0.852,"treatment":0.893},{"p":48,"w":8,"control":0.845,"treatment":0.885},{"p":48,"w":9,"control":0.848,"treatment":0.888},{"p":48,"w":10,"control":0.845,"treatment":0.882},{"p":48,"w":11,"control":0.85,"treatment":0.88},{"p":48,"w":12,"control":0.66,"treatment":0.66},
{"p":49,"w":1,"control":0.81,"treatment":0.825},{"p":49,"w":2,"control":0.86,"treatment":0.875},{"p":49,"w":3,"control":0.855,"treatment":0.893},{"p":49,"w":4,"control":0.85,"treatment":0.885},{"p":49,"w":5,"control":0.84,"treatment":0.89},{"p":49,"w":6,"control":0.845,"treatment":0.895},{"p":49,"w":7,"control":0.84,"treatment":0.88},{"p":49,"w":8,"control":0.842,"treatment":0.885},{"p":49,"w":9,"control":0.835,"treatment":0.888},{"p":49,"w":10,"control":0.845,"treatment":0.882},{"p":49,"w":11,"control":0.84,"treatment":0.885},{"p":49,"w":12,"control":0.755,"treatment":0.765},
{"p":50,"w":1,"control":0.82,"treatment":0.83},{"p":50,"w":2,"control":0.86,"treatment":0.88},{"p":50,"w":3,"control":0.855,"treatment":0.882},{"p":50,"w":4,"control":0.85,"treatment":0.885},{"p":50,"w":5,"control":0.855,"treatment":0.89},{"p":50,"w":6,"control":0.848,"treatment":0.885},{"p":50,"w":7,"control":0.85,"treatment":0.892},{"p":50,"w":8,"control":0.845,"treatment":0.885},{"p":50,"w":9,"control":0.84,"treatment":0.89},{"p":50,"w":10,"control":0.842,"treatment":0.885},{"p":50,"w":11,"control":0.85,"treatment":0.888},{"p":50,"w":12,"control":0.755,"treatment":0.77},
{"p":51,"w":1,"control":0.83,"treatment":0.835},{"p":51,"w":2,"control":0.865,"treatment":0.875},{"p":51,"w":3,"control":0.86,"treatment":0.885},{"p":51,"w":4,"control":0.852,"treatment":0.88},{"p":51,"w":5,"control":0.855,"treatment":0.885},{"p":51,"w":6,"control":0.848,"treatment":0.89},{"p":51,"w":7,"control":0.85,"treatment":0.885},{"p":51,"w":8,"control":0.845,"treatment":0.88},{"p":51,"w":9,"control":0.85,"treatment":0.89},{"p":51,"w":10,"control":0.848,"treatment":0.885},{"p":51,"w":11,"control":0.855,"treatment":0.88},{"p":51,"w":12,"control":0.68,"treatment":0.7},
{"p":52,"w":1,"control":0.83,"treatment":0.84},{"p":52,"w":2,"control":0.86,"treatment":0.89},{"p":52,"w":3,"control":0.858,"treatment":0.88},{"p":52,"w":4,"control":0.86,"treatment":0.885},{"p":52,"w":5,"control":0.855,"treatment":0.88},{"p":52,"w":6,"control":0.85,"treatment":0.875},{"p":52,"w":7,"control":0.848,"treatment":0.885},{"p":52,"w":8,"control":0.852,"treatment":0.878},{"p":52,"w":9,"control":0.845,"treatment":0.882},{"p":52,"w":10,"control":0.84,"treatment":0.875},{"p":52,"w":11,"control":0.855,"treatment":0.87},{"p":52,"w":12,"control":0.69,"treatment":0.7},
{"p":53,"w":1,"control":0.8,"treatment":0.81},{"p":53,"w":2,"control":0.86,"treatment":0.875},{"p":53,"w":3,"control":0.855,"treatment":0.88},{"p":53,"w":4,"control":0.85,"treatment":0.87},{"p":53,"w":5,"control":0.86,"treatment":0.885},{"p":53,"w":6,"control":0.855,"treatment":0.875},{"p":53,"w":7,"control":0.85,"treatment":0.88},{"p":53,"w":8,"control":0.845,"treatment":0.86},{"p":53,"w":9,"control":0.855,"treatment":0.88},{"p":53,"w":10,"control":0.85,"treatment":0.875},{"p":53,"w":11,"control":0.845,"treatment":0.87},{"p":53,"w":12,"control":0.7,"treatment":0.71},
{"p":54,"w":1,"control":0.85,"treatment":0.855},{"p":54,"w":2,"control":0.86,"treatment":0.88},{"p":54,"w":3,"control":0.855,"treatment":0.883},{"p":54,"w":4,"control":0.852,"treatment":0.875},{"p":54,"w":5,"control":0.848,"treatment":0.885},{"p":54,"w":6,"control":0.85,"treatment":0.88},{"p":54,"w":7,"control":0.845,"treatment":0.878},{"p":54,"w":8,"control":0.84,"treatment":0.888},{"p":54,"w":9,"control":0.848,"treatment":0.885},{"p":54,"w":10,"control":0.843,"treatment":0.875},{"p":54,"w":11,"control":0.852,"treatment":0.88},{"p":54,"w":12,"control":0.66,"treatment":0.67},
{"p":55,"w":1,"control":0.845,"treatment":0.86},{"p":55,"w":2,"control":0.865,"treatment":0.885},{"p":55,"w":3,"control":0.86,"treatment":0.89},{"p":55,"w":4,"control":0.855,"treatment":0.88},{"p":55,"w":5,"control":0.85,"treatment":0.885},{"p":55,"w":6,"control":0.848,"treatment":0.883},{"p":55,"w":7,"control":0.845,"treatment":0.875},{"p":55,"w":8,"control":0.842,"treatment":0.88},{"p":55,"w":9,"control":0.848,"treatment":0.89},{"p":55,"w":10,"control":0.84,"treatment":0.878},{"p":55,"w":11,"control":0.85,"treatment":0.88},{"p":55,"w":12,"control":0.68,"treatment":0.69},
{"p":56,"w":1,"control":0.84,"treatment":0.72},{"p":56,"w":2,"control":0.855,"treatment":0.875},{"p":56,"w":3,"control":0.86,"treatment":0.88},{"p":56,"w":4,"control":0.852,"treatment":0.885},{"p":56,"w":5,"control":0.855,"treatment":0.87},{"p":56,"w":6,"control":0.85,"treatment":0.88},{"p":56,"w":7,"control":0.85,"treatment":0.89},{"p":56,"w":8,"control":0.845,"treatment":0.875},{"p":56,"w":9,"control":0.842,"treatment":0.88},{"p":56,"w":10,"control":0.848,"treatment":0.87},{"p":56,"w":11,"control":0.85,"treatment":0.875},{"p":56,"w":12,"control":0.67,"treatment":0.72},
{"p":57,"w":1,"control":0.92,"treatment":0.755},{"p":57,"w":2,"control":0.86,"treatment":0.905},{"p":57,"w":3,"control":0.858,"treatment":0.84},{"p":57,"w":4,"control":0.855,"treatment":0.875},{"p":57,"w":5,"control":0.862,"treatment":0.82},{"p":57,"w":6,"control":0.85,"treatment":0.865},{"p":57,"w":7,"control":0.855,"treatment":0.83},{"p":57,"w":8,"control":0.85,"treatment":0.885},{"p":57,"w":9,"control":0.845,"treatment":0.81},{"p":57,"w":10,"control":0.852,"treatment":0.845},{"p":57,"w":11,"control":0.848,"treatment":0.87},{"p":57,"w":12,"control":0.752,"treatment":0.875},
{"p":58,"w":1,"control":0.86,"treatment":0.875},{"p":58,"w":2,"control":0.87,"treatment":0.89},{"p":58,"w":3,"control":0.865,"treatment":0.895},{"p":58,"w":4,"control":0.86,"treatment":0.88},{"p":58,"w":5,"control":0.855,"treatment":0.895},{"p":58,"w":6,"control":0.86,"treatment":0.89},{"p":58,"w":7,"control":0.858,"treatment":0.885},{"p":58,"w":8,"control":0.855,"treatment":0.89},{"p":58,"w":9,"control":0.86,"treatment":0.893},{"p":58,"w":10,"control":0.85,"treatment":0.88},{"p":58,"w":11,"control":0.855,"treatment":0.885},{"p":58,"w":12,"control":0.65,"treatment":0.86},
{"p":59,"w":1,"control":0.845,"treatment":0.86},{"p":59,"w":2,"control":0.87,"treatment":0.88},{"p":59,"w":3,"control":0.862,"treatment":0.89},{"p":59,"w":4,"control":0.86,"treatment":0.885},{"p":59,"w":5,"control":0.865,"treatment":0.9},{"p":59,"w":6,"control":0.855,"treatment":0.89},{"p":59,"w":7,"control":0.86,"treatment":0.885},{"p":59,"w":8,"control":0.858,"treatment":0.895},{"p":59,"w":9,"control":0.86,"treatment":0.885},{"p":59,"w":10,"control":0.855,"treatment":0.88},{"p":59,"w":11,"control":0.862,"treatment":0.89},{"p":59,"w":12,"control":0.66,"treatment":0.73},
{"p":60,"w":1,"control":0.77,"treatment":0.67},{"p":60,"w":2,"control":0.86,"treatment":0.885},{"p":60,"w":3,"control":0.855,"treatment":0.89},{"p":60,"w":4,"control":0.86,"treatment":0.875},{"p":60,"w":5,"control":0.858,"treatment":0.895},{"p":60,"w":6,"control":0.85,"treatment":0.885},{"p":60,"w":7,"control":0.855,"treatment":0.88},{"p":60,"w":8,"control":0.858,"treatment":0.89},{"p":60,"w":9,"control":0.86,"treatment":0.885},{"p":60,"w":10,"control":0.852,"treatment":0.88},{"p":60,"w":11,"control":0.855,"treatment":0.885},{"p":60,"w":12,"control":0.735,"treatment":0.81},
{"p":61,"w":1,"control":0.79,"treatment":0.82},{"p":61,"w":2,"control":0.86,"treatment":0.87},{"p":61,"w":3,"control":0.855,"treatment":0.88},{"p":61,"w":4,"control":0.85,"treatment":0.875},{"p":61,"w":5,"control":0.858,"treatment":0.885},{"p":61,"w":6,"control":0.852,"treatment":0.87},{"p":61,"w":7,"control":0.86,"treatment":0.89},{"p":61,"w":8,"control":0.85,"treatment":0.88},{"p":61,"w":9,"control":0.855,"treatment":0.885},{"p":61,"w":10,"control":0.853,"treatment":0.875},{"p":61,"w":11,"control":0.858,"treatment":0.88},{"p":61,"w":12,"control":0.685,"treatment":0.675},
{"p":62,"w":1,"control":0.77,"treatment":0.86},{"p":62,"w":2,"control":0.86,"treatment":0.88},{"p":62,"w":3,"control":0.855,"treatment":0.89},{"p":62,"w":4,"control":0.862,"treatment":0.87},{"p":62,"w":5,"control":0.858,"treatment":0.885},{"p":62,"w":6,"control":0.855,"treatment":0.875},{"p":62,"w":7,"control":0.86,"treatment":0.88},{"p":62,"w":8,"control":0.85,"treatment":0.885},{"p":62,"w":9,"control":0.855,"treatment":0.878},{"p":62,"w":10,"control":0.858,"treatment":0.88},{"p":62,"w":11,"control":0.855,"treatment":0.87},{"p":62,"w":12,"control":0.755,"treatment":0.82},
{"p":63,"w":1,"control":0.85,"treatment":0.87},{"p":63,"w":2,"control":0.862,"treatment":0.885},{"p":63,"w":3,"control":0.86,"treatment":0.88},{"p":63,"w":4,"control":0.855,"treatment":0.89},{"p":63,"w":5,"control":0.855,"treatment":0.885},{"p":63,"w":6,"control":0.858,"treatment":0.875},{"p":63,"w":7,"control":0.85,"treatment":0.89},{"p":63,"w":8,"control":0.86,"treatment":0.885},{"p":63,"w":9,"control":0.855,"treatment":0.88},{"p":63,"w":10,"control":0.85,"treatment":0.87},{"p":63,"w":11,"control":0.855,"treatment":0.875},{"p":63,"w":12,"control":0.755,"treatment":0.86},
{"p":64,"w":1,"control":0.845,"treatment":0.86},{"p":64,"w":2,"control":0.85,"treatment":0.875},{"p":64,"w":3,"control":0.84,"treatment":0.88},{"p":64,"w":4,"control":0.838,"treatment":0.885},{"p":64,"w":5,"control":0.842,"treatment":0.88},{"p":64,"w":6,"control":0.835,"treatment":0.875},{"p":64,"w":7,"control":0.84,"treatment":0.88},{"p":64,"w":8,"control":0.838,"treatment":0.87},{"p":64,"w":9,"control":0.845,"treatment":0.875},{"p":64,"w":10,"control":0.835,"treatment":0.88},{"p":64,"w":11,"control":0.842,"treatment":0.875},{"p":64,"w":12,"control":0.68,"treatment":0.71},
{"p":65,"w":1,"treatment":0.92},{"p":65,"w":2,"treatment":0.86},{"p":65,"w":3,"treatment":0.77},{"p":65,"w":4,"treatment":0.68},{"p":65,"w":5,"treatment":0.62},{"p":65,"w":6,"treatment":0.585},{"p":65,"w":7,"treatment":0.565},{"p":65,"w":8,"treatment":0.555},{"p":65,"w":9,"treatment":0.55},{"p":65,"w":10,"treatment":0.552},{"p":65,"w":11,"treatment":0.555},{"p":65,"w":12,"treatment":0.565},
{"p":66,"w":1,"control":0.88,"treatment":0.84},{"p":66,"w":2,"control":0.45,"treatment":0.7},{"p":66,"w":3,"control":0.5,"treatment":0.62},{"p":66,"w":4,"control":0.53,"treatment":0.58},{"p":66,"w":5,"control":0.55,"treatment":0.55},{"p":66,"w":6,"control":0.57,"treatment":0.54},{"p":66,"w":7,"control":0.58,"treatment":0.535},{"p":66,"w":8,"control":0.6,"treatment":0.535},{"p":66,"w":9,"control":0.6,"treatment":0.53},{"p":66,"w":10,"control":0.63,"treatment":0.535},{"p":66,"w":11,"control":0.65,"treatment":0.54},{"p":66,"w":12,"control":0.6,"treatment":0.54},
{"p":67,"w":1,"control":0.92,"treatment":0.9},{"p":67,"w":2,"control":0.7,"treatment":0.8},{"p":67,"w":3,"control":0.58,"treatment":0.7},{"p":67,"w":4,"control":0.53,"treatment":0.62},{"p":67,"w":5,"control":0.52,"treatment":0.57},{"p":67,"w":6,"control":0.53,"treatment":0.55},{"p":67,"w":7,"control":0.54,"treatment":0.545},{"p":67,"w":8,"control":0.54,"treatment":0.54},{"p":67,"w":9,"control":0.545,"treatment":0.54},{"p":67,"w":10,"control":0.55,"treatment":0.543},{"p":67,"w":11,"control":0.56,"treatment":0.545},{"p":67,"w":12,"control":0.58,"treatment":0.55},
{"p":68,"w":1,"control":0.93,"treatment":0.92},{"p":68,"w":2,"control":0.65,"treatment":0.8},{"p":68,"w":3,"control":0.56,"treatment":0.68},{"p":68,"w":4,"control":0.54,"treatment":0.6},{"p":68,"w":5,"control":0.545,"treatment":0.565},{"p":68,"w":6,"control":0.55,"treatment":0.55},{"p":68,"w":7,"control":0.55,"treatment":0.545},{"p":68,"w":8,"control":0.555,"treatment":0.54},{"p":68,"w":9,"control":0.55,"treatment":0.54},{"p":68,"w":10,"control":0.56,"treatment":0.545},{"p":68,"w":11,"control":0.565,"treatment":0.55},{"p":68,"w":12,"control":0.57,"treatment":0.555},
{"p":69,"w":1,"control":0.9,"treatment":0.88},{"p":69,"w":2,"control":0.86,"treatment":0.87},{"p":69,"w":3,"control":0.6,"treatment":0.72},{"p":69,"w":4,"control":0.55,"treatment":0.63},{"p":69,"w":5,"control":0.56,"treatment":0.58},{"p":69,"w":6,"control":0.57,"treatment":0.56},{"p":69,"w":7,"control":0.575,"treatment":0.555},{"p":69,"w":8,"control":0.57,"treatment":0.55},{"p":69,"w":9,"control":0.575,"treatment":0.55},{"p":69,"w":10,"control":0.58,"treatment":0.552},{"p":69,"w":11,"control":0.585,"treatment":0.555},{"p":69,"w":12,"control":0.59,"treatment":0.56},
{"p":70,"w":1,"control":0.93,"treatment":0.92},{"p":70,"w":2,"control":0.8,"treatment":0.84},{"p":70,"w":3,"control":0.62,"treatment":0.69},{"p":70,"w":4,"control":0.56,"treatment":0.6},{"p":70,"w":5,"control":0.55,"treatment":0.56},{"p":70,"w":6,"control":0.555,"treatment":0.55},{"p":70,"w":7,"control":0.56,"treatment":0.548},{"p":70,"w":8,"control":0.558,"treatment":0.547},{"p":70,"w":9,"control":0.56,"treatment":0.545},{"p":70,"w":10,"control":0.555,"treatment":0.548},{"p":70,"w":11,"control":0.56,"treatment":0.55},{"p":70,"w":12,"control":0.565,"treatment":0.555},
{"p":71,"w":1,"control":0.93,"treatment":0.93},{"p":71,"w":2,"control":0.85,"treatment":0.86},{"p":71,"w":3,"control":0.66,"treatment":0.72},{"p":71,"w":4,"control":0.58,"treatment":0.63},{"p":71,"w":5,"control":0.57,"treatment":0.58},{"p":71,"w":6,"control":0.575,"treatment":0.565},{"p":71,"w":7,"control":0.58,"treatment":0.56},{"p":71,"w":8,"control":0.585,"treatment":0.555},{"p":71,"w":9,"control":0.58,"treatment":0.555},{"p":71,"w":10,"control":0.585,"treatment":0.558},{"p":71,"w":11,"control":0.59,"treatment":0.56},{"p":71,"w":12,"control":0.6,"treatment":0.56},
{"p":72,"w":1,"control":0.9,"treatment":0.9},{"p":72,"w":2,"control":0.79,"treatment":0.84},{"p":72,"w":3,"control":0.62,"treatment":0.7},{"p":72,"w":4,"control":0.565,"treatment":0.61},{"p":72,"w":5,"control":0.56,"treatment":0.57},{"p":72,"w":6,"control":0.565,"treatment":0.56},{"p":72,"w":7,"control":0.57,"treatment":0.555},{"p":72,"w":8,"control":0.57,"treatment":0.553},{"p":72,"w":9,"control":0.572,"treatment":0.552},{"p":72,"w":10,"control":0.575,"treatment":0.555},{"p":72,"w":11,"control":0.575,"treatment":0.56},{"p":72,"w":12,"control":0.58,"treatment":0.562},
{"p":73,"w":1,"control":0.91,"treatment":0.91},{"p":73,"w":2,"control":0.82,"treatment":0.86},{"p":73,"w":3,"control":0.63,"treatment":0.72},{"p":73,"w":4,"control":0.58,"treatment":0.63},{"p":73,"w":5,"control":0.565,"treatment":0.59},{"p":73,"w":6,"control":0.57,"treatment":0.575},{"p":73,"w":7,"control":0.57,"treatment":0.565},{"p":73,"w":8,"control":0.575,"treatment":0.56},{"p":73,"w":9,"control":0.57,"treatment":0.56},{"p":73,"w":10,"control":0.575,"treatment":0.562},{"p":73,"w":11,"control":0.58,"treatment":0.565},{"p":73,"w":12,"control":0.59,"treatment":0.57},
{"p":74,"w":1,"control":0.9,"treatment":0.9},{"p":74,"w":2,"control":0.75,"treatment":0.8},{"p":74,"w":3,"control":0.58,"treatment":0.65},{"p":74,"w":4,"control":0.55,"treatment":0.58},{"p":74,"w":5,"control":0.545,"treatment":0.56},{"p":74,"w":6,"control":0.55,"treatment":0.555},{"p":74,"w":7,"control":0.55,"treatment":0.55},{"p":74,"w":8,"control":0.555,"treatment":0.548},{"p":74,"w":9,"control":0.55,"treatment":0.548},{"p":74,"w":10,"control":0.552,"treatment":0.55},{"p":74,"w":11,"control":0.555,"treatment":0.552},{"p":74,"w":12,"control":0.56,"treatment":0.555},
{"p":75,"w":1,"control":0.9,"treatment":0.9},{"p":75,"w":2,"control":0.68,"treatment":0.72},{"p":75,"w":3,"control":0.55,"treatment":0.58},{"p":75,"w":4,"control":0.525,"treatment":0.54},{"p":75,"w":5,"control":0.52,"treatment":0.53},{"p":75,"w":6,"control":0.52,"treatment":0.525},{"p":75,"w":7,"control":0.525,"treatment":0.52},{"p":75,"w":8,"control":0.52,"treatment":0.52},{"p":75,"w":9,"control":0.525,"treatment":0.522},{"p":75,"w":10,"control":0.525,"treatment":0.522},{"p":75,"w":11,"control":0.535,"treatment":0.525},{"p":75,"w":12,"control":0.54,"treatment":0.53}
]},
"transform":[
{"fold":["control","treatment"],"as":["g","v"]},
{"filter":"isValid(datum.v)"},
{"lookup":"p","from":{"data":{"name":"titles"},"key":"p","fields":["ttl"]}}
],
"facet":{"field":"ttl","type":"nominal","sort":{"field":"p","op":"min"},
 "header":{"title":null,"labelExpr":"split(datum.value,'|')","labelFontSize":2.6,"labelLineHeight":2.8,"labelPadding":1,"labelFont":"DejaVu Sans","labelColor":"#000"}},
"columns":4,
"spacing":{"row":2.5,"column":3},
"resolve":{"scale":{"x":"independent","y":"independent"}},
"spec":{
 "width":59,"height":34,
 "layer":[
  {"mark":{"type":"rule","strokeWidth":2,"opacity":0.2},
   "encoding":{"y":{"aggregate":"mean","field":"v","type":"quantitative"},
    "color":{"field":"g","type":"nominal"}}},
  {"mark":{"type":"line","strokeWidth":0.8,"point":{"filled":true,"size":8}},
   "encoding":{
    "x":{"field":"w","type":"quantitative","title":"Week","scale":{"zero":false,"nice":false,"padding":2.5},"axis":{"format":"d","tickMinStep":1,"labelAngle":-45,"tickCount":10,"minExtent":7}},
    "y":{"field":"v","type":"quantitative","title":"Average Tau","scale":{"zero":false,"nice":false,"padding":2.5},"axis":{"tickCount":4}},
    "color":{"field":"g","type":"nominal","scale":{"domain":["control","treatment"],"range":["#1f77b4","#ff7f0e"]},
     "legend":{"title":null,"orient":"none","legendX":44,"legendY":12,"labelFontSize":2.6,"symbolSize":6,"padding":1,"rowPadding":0.5,"strokeColor":"#ccc","fillColor":"#fff","symbolStrokeWidth":0.5,"labelOffset":1,"symbolType":"circle"}}
   }}
 ]
},
"config":{
 "font":"DejaVu Sans",
 "view":{"stroke":"#333","strokeWidth":0.8},
 "axis":{"labelFontSize":2.6,"titleFontSize":2.6,"titleFontWeight":"normal","tickSize":1.5,"tickWidth":0.4,"labelPadding":0.5,"titlePadding":1,"grid":false,"domain":false,"labelColor":"#000","titleColor":"#000","tickColor":"#000"}
}
}
